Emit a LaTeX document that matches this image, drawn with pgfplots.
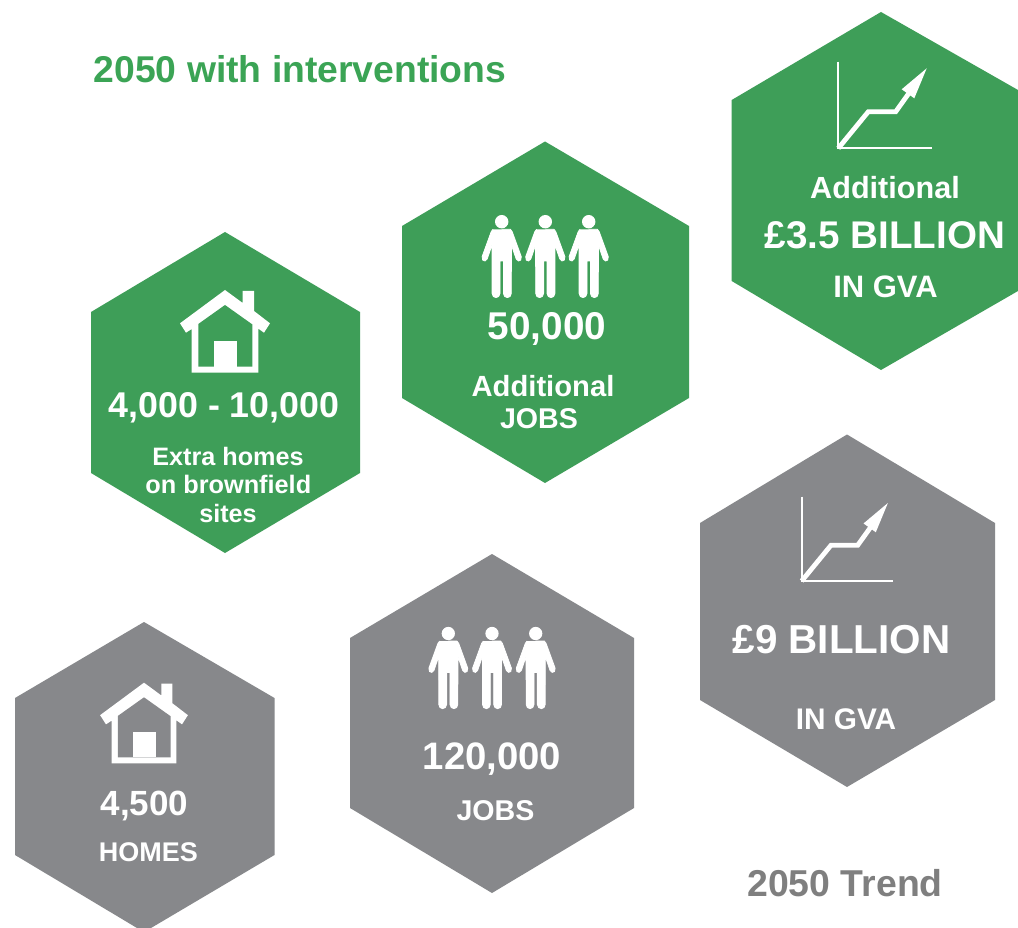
\documentclass[border=0pt]{standalone}
\usepackage{fontspec}
\setmainfont{Liberation Sans}
\usepackage{pgfplots}
\usepackage{pgfplotstable}
\pgfplotsset{compat=1.18}
\definecolor{grn}{HTML}{3E9E58}
\definecolor{gry}{HTML}{87888B}
\definecolor{ttlgrn}{HTML}{3BA455}
\definecolor{ttlgry}{HTML}{7F7F7F}
% hexagon vertices (pixels of the picture)
\pgfplotstableread{
x y
881 12
1018 90
1018 291
881 370
731.7 281
731.7 100
}\hexa
\pgfplotstableread{
x y
225 232
360 312
360 473
225 553
91 473
91 312
}\hexb
\pgfplotstableread{
x y
545 141.5
689 226
689 398
545 483
402 398
402 226
}\hexc
\pgfplotstableread{
x y
144 622
274.5 698
274.5 855
151 928
137 928
15 855
15 698
}\hexd
\pgfplotstableread{
x y
492 554
634 638
634 808
492 893
350 808
350 638
}\hexe
\pgfplotstableread{
x y
847 434.5
995 523
995 700
847 787
700 700
700 523
}\hexf
% house, relative to the apex
\pgfplotstableread{
x y
0 0
17.7 13
17.7 1
29 1
29 21
45 33.3
39 42.7
33.3 38.6
33.3 82.7
-33.3 82.7
-33.3 39
-39 42.7
-45 33.3
}\houseout
\pgfplotstableread{
x y
0 15
27.3 34.4
27.3 76.7
-26.7 76.7
-26.7 34
}\housein
\pgfplotstableread{
x y
-11 51
12.3 51
12.3 76.7
-11 76.7
}\housedoor
% person, relative to the centre of the head
\pgfplotstableread{
x y
0 7.6
8.7 7.6
10.5 10
19.6 35
19 38.4
16.7 39.3
14.5 37.3
9.7 23.3
9.6 71.7
8.4 74.8
5.7 75.9
3 74.8
1.7 71.7
1.7 39.3
-1.7 39.3
-1.7 71.7
-3 74.8
-5.7 75.9
-8.4 74.8
-9.6 71.7
-9.7 23.3
-14.5 37.3
-16.7 39.3
-19 38.4
-19.6 35
-10.5 10
-8.7 7.6
}\person
% head outline, relative to its centre
\pgfplotstableread{
x y
6.7 0
6.2 2.6
4.7 4.7
2.6 6.2
0 6.7
-2.6 6.2
-4.7 4.7
-6.2 2.6
-6.7 0
-6.2 -2.6
-4.7 -4.7
-2.6 -6.2
0 -6.7
2.6 -6.2
4.7 -4.7
6.2 -2.6
}\head
% growth chart, relative to the origin of its axes
\pgfplotstableread{
x y
0 -86.6
0 0
94 0
}\chartaxes
\pgfplotstableread{
x y
0 0
30 -36.6
57.4 -36.6
72 -57
}\chartline
\pgfplotstableread{
x y
88.4 -80
63.4 -59
76 -50
}\charthead
\newcommand\hex[2]{\addplot[fill=#1,draw=none] table {#2};}
\newcommand\poly[5]{\addplot[fill=#1,draw=none] table[x expr=\thisrow{x}*#4+#2,y expr=\thisrow{y}*#4+#3] {#5};}
\newcommand\house[4]{%
  \poly{white}{#1}{#2}{#3}{\houseout}
  \poly{#4}{#1}{#2}{#3}{\housein}
  \poly{white}{#1}{#2}{#3}{\housedoor}}
\newcommand\man[3]{%
  \addplot[fill=white,draw=white,line width=0.8pt,line join=round] table[x expr=\thisrow{x}*#3+#1,y expr=\thisrow{y}*#3+#2] {\person};
  \poly{white}{#1}{#2}{#3}{\head}}
\newcommand\growth[3]{%
  \addplot[draw=white,line width=2.3pt,line join=miter] table[x expr=\thisrow{x}*#3+#1,y expr=\thisrow{y}*#3+#2] {\chartaxes};
  \addplot[draw=white,line width=4.8pt,line join=miter] table[x expr=\thisrow{x}*#3+#1,y expr=\thisrow{y}*#3+#2] {\chartline};
  \poly{white}{#1}{#2}{#3}{\charthead}}
\newcommand\T[5]{\node[anchor=base,inner sep=0pt,text=#4,font=\fontsize{#3}{#3}\selectfont\bfseries] at (axis cs:#1,#2) {#5};}
\begin{document}
\begin{tikzpicture}
\begin{axis}[
  scale only axis,width=1018pt,height=928pt,
  xmin=0,xmax=1018,ymin=0,ymax=928,y dir=reverse,
  hide axis,clip=false]
\addplot[fill=white,draw=none] coordinates {(0,0) (1018,0) (1018,928) (0,928)};
\hex{grn}{\hexa}
\hex{grn}{\hexb}
\hex{grn}{\hexc}
\hex{gry}{\hexd}
\hex{gry}{\hexe}
\hex{gry}{\hexf}
\house{225}{290}{1}{grn}
\house{144}{682.7}{0.975}{gry}
\man{501.7}{221.7}{1}
\man{545.3}{221.7}{1}
\man{588.7}{221.7}{1}
\man{448.3}{633.5}{0.99}
\man{492}{633.5}{0.99}
\man{535.7}{633.5}{0.99}
\growth{838.3}{148.3}{1}
\growth{801.7}{581}{0.975}
\T{300}{83}{37.3}{ttlgrn}{2050 with interventions}
\T{845}{896.7}{37.4}{ttlgry}{2050 Trend}
\T{224}{417.2}{35.8}{white}{4,000 - 10,000}
\T{228}{465.7}{25.2}{white}{Extra homes}
\T{228.3}{493.7}{25.3}{white}{on brownfield}
\T{228}{522.4}{25.2}{white}{sites}
\T{547}{339.5}{38.7}{white}{50,000}
\T{543}{396.4}{29.2}{white}{Additional}
\T{539}{428.4}{28.6}{white}{JOBS}
\T{885}{198.7}{30.6}{white}{Additional}
\T{885}{249}{38.6}{white}{£3.5 BILLION}
\T{885.5}{297.2}{31}{white}{IN GVA}
\T{144.5}{815.5}{35}{white}{4,500}
\T{148.3}{861.4}{27}{white}{HOMES}
\T{492}{769}{38.3}{white}{120,000}
\T{495.5}{820}{28.6}{white}{JOBS}
\T{841.5}{653.4}{40.4}{white}{£9 BILLION}
\T{846}{729}{29.8}{white}{IN GVA}
\end{axis}
\end{tikzpicture}
\end{document}
